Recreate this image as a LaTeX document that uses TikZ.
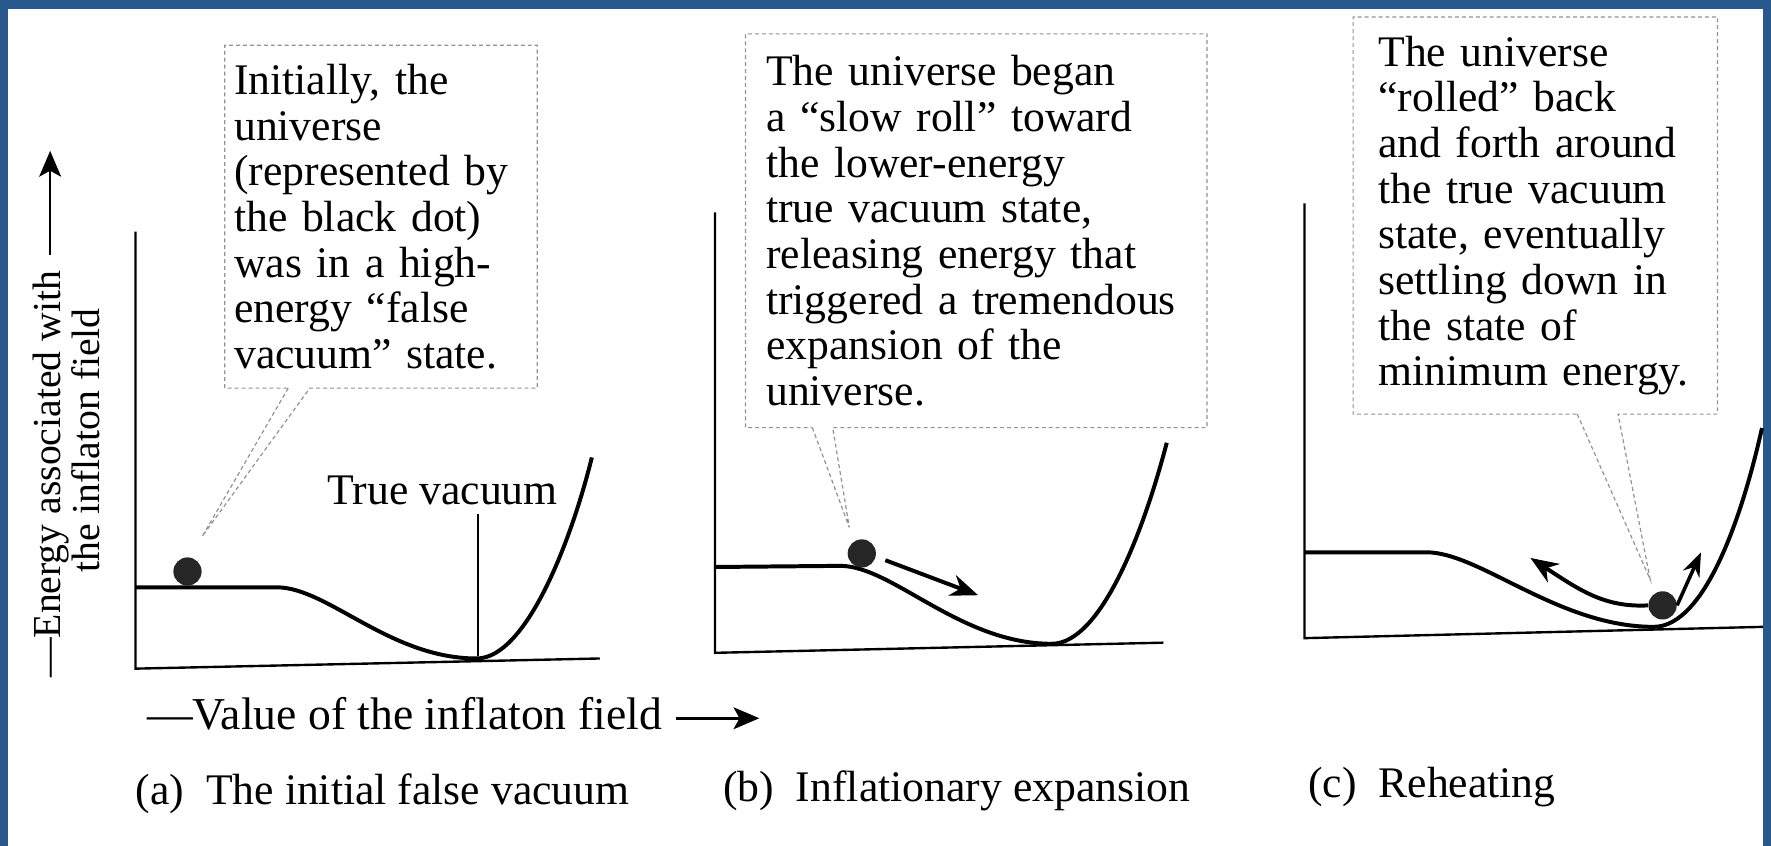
\documentclass[tikz,border=0pt]{standalone}
\usepackage{fontspec}
\setmainfont{Liberation Serif}
\usetikzlibrary{arrows.meta,calc,positioning}
\definecolor{frameblue}{RGB}{40,88,140}
\newcommand{\notefont}{\fontsize{22}{23}\selectfont}
\newcommand{\ylabfont}{\fontsize{20}{22}\selectfont}
\newcommand{\xlabfont}{\fontsize{23}{25}\selectfont}
\tikzset{
  axis/.style={line width=1.2pt},
  curve/.style={line width=2pt},
  ball/.style={circle,fill=black!85,inner sep=0pt,minimum size=0.5cm},
  note/.style={align=left,inner ysep=0pt,font=\notefont},
  callout/.style={gray!85,line width=0.6pt,dash pattern=on 2pt off 1.5pt},
  roll/.style={line width=2pt,-{Stealth[length=14pt,width=11pt]}},
  labarrow/.style={line width=1.3pt,-{Stealth[length=13pt,width=11pt,inset=3pt]}}
}

\begin{document}
\begin{tikzpicture}[x=0.02cm,y=-0.02cm]

    \useasboundingbox (0,0) rectangle (1568,749);
    \fill[white] (0,0) rectangle (1568,749);
    \fill[frameblue] (0,0) rectangle (1568,8);
    \fill[frameblue] (0,0) rectangle (7,749);
    \fill[frameblue] (1561,0) rectangle (1568,749);

    % (a) the initial false vacuum
    \draw[axis] (120,205) -- (120,592) -- (531,583);
    \draw[curve] (120,520) -- (245,520) .. controls (290,520) and (345,583) .. (422,583)
        .. controls (466,583) and (506,478) .. (524,405);
    \node[font=\notefont,inner sep=0pt] (tv) at (392,434) {True vacuum};
    \coordinate (minA) at (423,581);
    \draw[line width=0.9pt] (minA) -- ($(tv.south -| minA)+(0,8)$);
    \node[ball] (dotA) at (166,506) {};
    \coordinate (tipA) at (179,475);
    \node[note,inner xsep=0.16cm,text width=5.2cm,minimum height=6.06cm,anchor=north west] (noteA) at (199,40)
        {Initially, the\\ universe\\ (represented by\\ the black dot)\\ was in a high-\\ energy “false\\ vacuum” state.};
    \draw[callout] ($(noteA.south west)!0.203!(noteA.south east)$) -- (tipA)
        -- ($(noteA.south west)!0.272!(noteA.south east)$) -- (noteA.south east)
        -- (noteA.north east) -- (noteA.north west) -- (noteA.south west) -- cycle;

    % (b) inflationary expansion
    \draw[axis] (633,188) -- (633,578) -- (1030,569);
    \draw[curve] (633,502) -- (744,501) .. controls (790,501) and (850,570) .. (931,570)
        .. controls (976,570) and (1014,465) .. (1033,392);
    \node[ball] (dotB) at (763,490) {};
    \coordinate (tipB) at (752,467);
    \coordinate (rollB) at (866,527);
    \draw[roll] ($(dotB.east)+(8,6)$) -- (rollB);
    \node[note,inner xsep=0.36cm,text width=7.44cm,minimum height=6.96cm,anchor=north west] (noteB) at (660,30)
        {The universe began\\ a “slow roll” toward\\ the lower-energy\\ true vacuum state,\\ releasing energy that\\ triggered a tremendous\\ expansion of the\\ universe.};
    \draw[callout] ($(noteB.south west)!0.145!(noteB.south east)$) -- (tipB)
        -- ($(noteB.south west)!0.189!(noteB.south east)$) -- (noteB.south east)
        -- (noteB.north east) -- (noteB.north west) -- (noteB.south west) -- cycle;

    % (c) reheating
    \draw[axis] (1155,180) -- (1155,565) -- (1561,555);
    \draw[curve] (1155,489) -- (1263,489) .. controls (1310,489) and (1380,555) .. (1464,555)
        .. controls (1510,555) and (1543,455) .. (1560,379);
    \node[ball] (dotC) at (1472,536) {};
    \coordinate (tipC) at (1461,513);
    \coordinate (backC) at (1355,494);
    \coordinate (upC) at (1506,489);
    \draw[roll] (dotC.west) .. controls (1420,538) and (1398,522) .. (backC);
    \draw[line width=1.8pt,-{Stealth[length=12pt,width=9pt]}] (dotC.east) -- (upC);
    \node[note,inner xsep=0.44cm,text width=5.56cm,minimum height=7.02cm,anchor=north west] (noteC) at (1198,15)
        {The universe\\ “rolled” back\\ and forth around\\ the true vacuum\\ state, eventually\\ settling down in\\ the state of\\ minimum energy.};
    \draw[callout] ($(noteC.south west)!0.615!(noteC.south east)$) -- (tipC)
        -- ($(noteC.south west)!0.727!(noteC.south east)$) -- (noteC.south east)
        -- (noteC.north east) -- (noteC.north west) -- (noteC.south west) -- cycle;

    % axis labels
    \node[font=\ylabfont,rotate=90] (ylabA) at (45,420) {—Energy associated with};
    \node[font=\ylabfont,rotate=90] (ylabB) at (76,390) {the inflaton field};
    \draw[labarrow] ($(ylabA.base east)+(-9,-8)$) -- ++(0,-92);
    \node[font=\xlabfont,anchor=west,inner sep=0pt] (xlab) at (130,632) {—Value of the inflaton field};
    \draw[labarrow] ($(xlab.base east)+(12,-10)$) -- ++(74,0);

    % captions
    \node[font=\notefont,anchor=west,inner sep=0pt] (capA) at (120,703) {(a)\enspace The initial false vacuum};
    \node[font=\notefont,anchor=west,inner sep=0pt] (capB) at (640,700) {(b)\enspace Inflationary expansion};
    \node[font=\notefont,anchor=west,inner sep=0pt] (capC) at (1158,697) {(c)\enspace Reheating};

\end{tikzpicture}
\end{document}
